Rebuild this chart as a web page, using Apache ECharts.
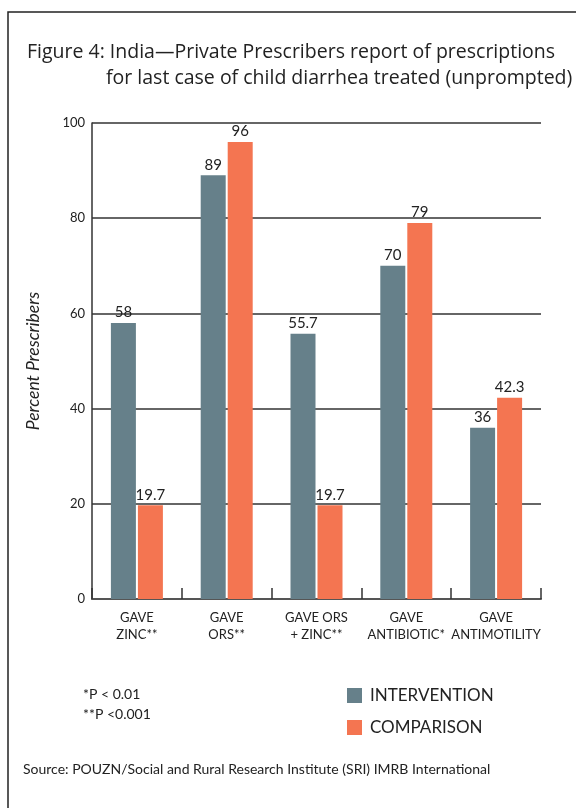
<!DOCTYPE html>
<html>
<head>
<meta charset="utf-8">
<script src="https://cdn.jsdelivr.net/npm/echarts@6/dist/echarts.min.js"></script>
<style>
  html, body { margin: 0; padding: 0; background: #fff; }
  #chart { width: 576px; height: 808px; }
</style>
</head>
<body>
<div id="chart"></div>
<script>
// Prescription categories and the share of prescribers (%) in each study arm
const categories = ['GAVE\nZINC**', 'GAVE\nORS**', 'GAVE ORS\n+ ZINC**', 'GAVE\nANTIBIOTIC*', 'GAVE\nANTIMOTILITY'];
const intervention = [58, 89, 55.7, 70, 36];
const comparison = [19.7, 96, 19.7, 79, 42.3];
const seriesNames = ['INTERVENTION', 'COMPARISON'];
const yTicks = { min: 0, max: 100, interval: 20 };
const titleLines = [
  'Figure 4: India\u2014Private Prescribers report of prescriptions',
  'for last case of child diarrhea treated (unprompted)'
];

const FONT = 'Lato, "Open Sans", sans-serif';
const TITLE_FONT = '"Open Sans", Lato, sans-serif';
const INK = '#222';
const COLORS = ['#66808A', '#F47551'];

const chart = echarts.init(document.getElementById('chart'));

const valueLabel = {
  show: true,
  position: 'top',
  distance: 3,
  color: INK,
  fontFamily: FONT,
  fontSize: 15
};

chart.setOption({
  animation: false,
  backgroundColor: '#fff',
  legend: {
    data: seriesNames,
    orient: 'vertical',
    left: 342,
    top: 682,
    itemWidth: 15,
    itemHeight: 15,
    itemGap: 15,
    icon: 'rect',
    textStyle: { fontFamily: FONT, fontSize: 17, color: INK, padding: [0, 0, 0, 3] }
  },
  grid: { left: 92, right: 35, top: 123, bottom: 209, containLabel: false },
  xAxis: {
    type: 'category',
    data: categories,
    axisLine: { lineStyle: { color: '#555', width: 2 } },
    axisTick: { show: true, inside: true, length: 11, lineStyle: { color: '#333', width: 1.5 } },
    axisLabel: {
      interval: 0,
      color: INK,
      fontFamily: FONT,
      fontSize: 13,
      lineHeight: 17,
      margin: 10
    }
  },
  yAxis: {
    type: 'value',
    min: yTicks.min,
    max: yTicks.max,
    interval: yTicks.interval,
    name: 'Percent Prescribers',
    nameLocation: 'middle',
    nameGap: 50,
    nameTextStyle: { fontFamily: FONT, fontStyle: 'italic', fontSize: 17.5, color: INK },
    axisLine: { show: true, lineStyle: { color: '#333', width: 1.5 } },
    axisTick: { show: false },
    axisLabel: { color: INK, fontFamily: FONT, fontSize: 13, margin: 7 },
    splitLine: { lineStyle: { color: '#333', width: 1.5 } }
  },
  series: [
    {
      name: seriesNames[0],
      type: 'bar',
      data: intervention,
      barWidth: 25,
      barGap: '8%',
      itemStyle: { color: COLORS[0] },
      label: valueLabel,
      z: 3
    },
    {
      name: seriesNames[1],
      type: 'bar',
      data: comparison,
      barWidth: 25,
      itemStyle: { color: COLORS[1] },
      label: valueLabel,
      z: 3
    }
  ],
  graphic: [
    {
      type: 'rect',
      shape: { x: 8, y: 12, width: 620, height: 860 },
      style: { fill: 'none', stroke: '#222', lineWidth: 1.5 },
      silent: true
    },
    {
      type: 'text',
      x: 27,
      y: 52,
      style: {
        text: titleLines[0],
        fontFamily: TITLE_FONT,
        fontSize: 19.5,
        fill: INK,
        verticalAlign: 'middle'
      }
    },
    {
      type: 'text',
      x: 106,
      y: 78,
      style: {
        text: titleLines[1],
        fontFamily: TITLE_FONT,
        fontSize: 19.5,
        fill: INK,
        verticalAlign: 'middle'
      }
    },
    {
      type: 'text',
      left: 83,
      top: 684,
      style: {
        text: '*P < 0.01\n**P <0.001',
        fontFamily: FONT,
        fontSize: 14,
        lineHeight: 20,
        fill: INK
      }
    },
    {
      type: 'text',
      left: 23,
      top: 762,
      style: {
        text: 'Source: POUZN/Social and Rural Research Institute (SRI) IMRB International',
        fontFamily: FONT,
        fontSize: 14,
        fill: INK
      }
    }
  ]
});
</script>
</body>
</html>
